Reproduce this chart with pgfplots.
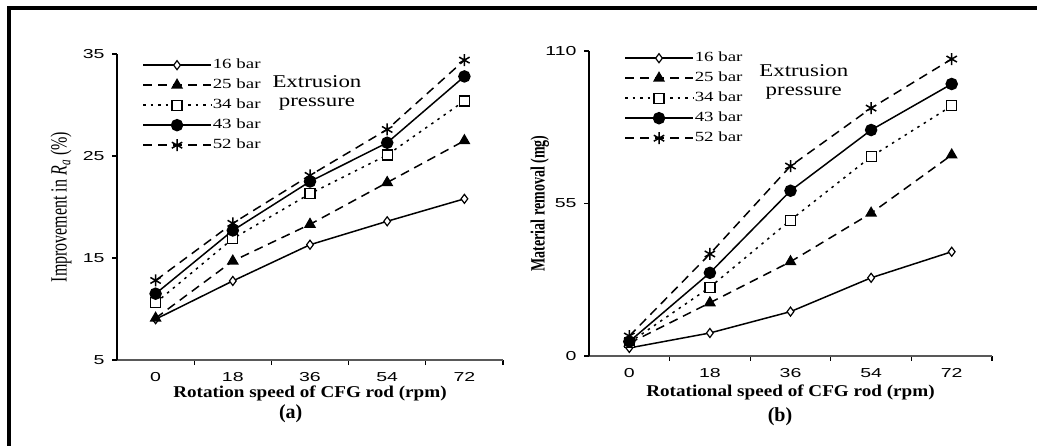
\documentclass[border=0pt]{standalone}
\usepackage{pgfplots}
\pgfplotsset{compat=1.18}
\usepackage{graphicx}
\usepackage{fontspec}
\setmainfont{Liberation Serif}
\newfontfamily\ticksans{Liberation Sans}
% the reference is stretched sideways: widen horizontal text, heighten rotated text
\newcommand\wide[2][1.35]{\scalebox{#1}[1]{#2}}
\newcommand\tall[1]{\scalebox{1}[1.45]{#1}}

\pgfplotsset{
  panel/.style={
    scale only axis,
    clip=false,
    axis lines=left,
    axis line style={-, line width=1.7bp},
    x axis line style={black!65},
    xmin=-0.5, xmax=4.5,
    xtick={0,...,4},
    xticklabels={\wide[1.5]{0},\wide[1.5]{18},\wide[1.5]{36},\wide[1.5]{54},\wide[1.5]{72}},
    yticklabel={\wide[1.5]{\pgfmathprintnumber{\tick}}},
    minor xtick={0.5,1.5,2.5,3.5,4.5},
    major x tick style={draw=none},
    tick align=outside,
    major tick length=5bp, minor tick length=5bp,
    tick style={line width=1.2bp, black},
    ticklabel style={font=\ticksans\fontsize{13bp}{15bp}\selectfont},
    /pgf/number format/assume math mode=true,
    xticklabel style={yshift=-4bp},
    yticklabel style={xshift=-4bp},
    every axis plot/.append style={line width=1.5bp, black},
    legend cell align=left,
    legend image code/.code={
      \draw[mark repeat=2, mark phase=2, #1]
        plot coordinates {(0bp,0bp) (34bp,0bp) (68bp,0bp)};},
    legend style={draw=none, fill=none, inner sep=0pt, row sep=6bp,
      font=\fontsize{14bp}{15bp}\selectfont,
      nodes={inner sep=1bp, text height=9bp, text depth=3bp}},
  },
  s16/.style={solid, mark=diamond*, mark size=4.5bp, mark options={solid, fill=white, line width=1.2bp}},
  s25/.style={dash pattern=on 9bp off 6bp, mark=triangle*, mark size=5.5bp, mark options={solid, fill=black}},
  s34/.style={dash pattern=on 2.5bp off 5bp, mark=square*, mark size=5bp, mark options={solid, fill=white, line width=1.2bp}},
  s43/.style={solid, mark=*, mark size=5.5bp, mark options={solid, fill=black}},
  s52/.style={dash pattern=on 9bp off 6bp, mark=asterisk, mark size=6bp, mark options={solid}},
}

\begin{document}
\begin{tikzpicture}
\useasboundingbox (0,0) rectangle (1037bp,446bp);
\draw[line width=4bp] (9bp,0) -- (9bp,438bp) -- (1037bp,438bp);

% (a) improvement in Ra
\begin{axis}[panel,
  at={(117bp,86bp)}, anchor=south west,
  width=386bp, height=306bp,
  ymin=5, ymax=35, ytick={5,15,25,35},
  xlabel={\wide[1.16]{Rotation speed of CFG rod (rpm)}},
  xlabel style={at={(axis description cs:0.5,-0.108)}, anchor=center,
    font=\fontsize{16.5bp}{18bp}\selectfont\bfseries},
  ylabel={\tall{Improvement in \textit{R}\textsubscript{\textit{a}} (\%)}},
  ylabel style={at={(axis description cs:-0.145,0.5)}, anchor=center,
    font=\fontsize{16bp}{18bp}\selectfont},
  legend style={at={(axis description cs:0.065,0.987)}, anchor=north west},
]
\addplot[s16] coordinates {(0,9.0) (1,12.75) (2,16.3) (3,18.6) (4,20.8)};
\addlegendentry{\wide{16 bar}}
\addplot[s25] coordinates {(0,9.1) (1,14.7) (2,18.3) (3,22.4) (4,26.5)};
\addlegendentry{\wide{25 bar}}
\addplot[s34] coordinates {(0,10.6) (1,16.9) (2,21.3) (3,25.1) (4,30.4)};
\addlegendentry{\wide{34 bar}}
\addplot[s43] coordinates {(0,11.5) (1,17.7) (2,22.5) (3,26.3) (4,32.8)};
\addlegendentry{\wide{43 bar}}
\addplot[s52] coordinates {(0,12.8) (1,18.4) (2,23.1) (3,27.6) (4,34.4)};
\addlegendentry{\wide{52 bar}}
\node[align=center, font=\fontsize{18bp}{19bp}\selectfont]
  at (axis description cs:0.518,0.874) {\wide[1.27]{Extrusion}\\\wide[1.27]{pressure}};
\node[font=\fontsize{20bp}{22bp}\selectfont\bfseries]
  at (axis description cs:0.45,-0.175) {(a)};
\end{axis}

% (b) material removal
\begin{axis}[panel,
  at={(589bp,90bp)}, anchor=south west,
  width=403bp, height=305bp,
  ymin=0, ymax=110, ytick={0,55,110},
  xlabel={\wide[1.16]{Rotational speed of CFG rod (rpm)}},
  xlabel style={at={(axis description cs:0.5,-0.121)}, anchor=center,
    font=\fontsize{16.5bp}{18bp}\selectfont\bfseries},
  ylabel={\tall{\bfseries Material removal (mg)}},
  ylabel style={at={(axis description cs:-0.122,0.5)}, anchor=center,
    font=\fontsize{14bp}{16bp}\selectfont},
  legend style={at={(axis description cs:0.087,1.0)}, anchor=north west},
]
\addplot[s16] coordinates {(0,2.9) (1,8.3) (2,16.0) (3,28.2) (4,37.6)};
\addlegendentry{\wide{16 bar}}
\addplot[s25] coordinates {(0,4.6) (1,19.2) (2,34.0) (3,51.5) (4,72.5)};
\addlegendentry{\wide{25 bar}}
\addplot[s34] coordinates {(0,4.8) (1,24.8) (2,49.0) (3,71.9) (4,90.2)};
\addlegendentry{\wide{34 bar}}
\addplot[s43] coordinates {(0,5.2) (1,30.0) (2,59.6) (3,81.5) (4,98.1)};
\addlegendentry{\wide{43 bar}}
\addplot[s52] coordinates {(0,7.2) (1,36.8) (2,68.5) (3,89.4) (4,107.1)};
\addlegendentry{\wide{52 bar}}
\node[align=center, font=\fontsize{18bp}{19bp}\selectfont]
  at (axis description cs:0.533,0.898) {\wide[1.27]{Extrusion}\\\wide[1.27]{pressure}};
\node[font=\fontsize{20bp}{22bp}\selectfont\bfseries]
  at (axis description cs:0.474,-0.2) {(b)};
\end{axis}
\end{tikzpicture}
\end{document}
